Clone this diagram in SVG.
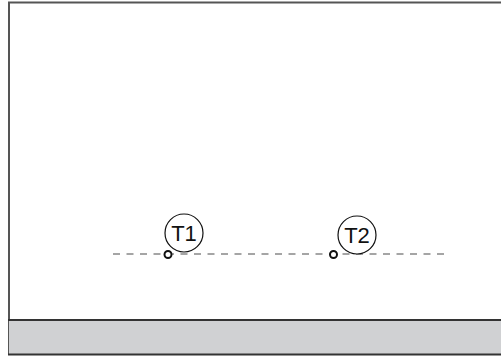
<svg xmlns="http://www.w3.org/2000/svg" width="501" height="358" viewBox="0 0 501 358">
<style>
.frame{fill:none;stroke:#555;stroke-width:2}
.band{fill:#d0d1d3;stroke:none}
.bandline{stroke:#333;stroke-width:2}
.dash{stroke:#888;stroke-width:1.5;stroke-dasharray:7 6.5;fill:none}
.tag{fill:#fff;stroke:#111;stroke-width:1.2}
.pt{fill:#fff;stroke:#111;stroke-width:2}
.lbl{font-family:"Liberation Sans",Arial,sans-serif;font-size:22px;fill:#111;text-anchor:middle}
</style>
<rect width="501" height="358" fill="#fff"/>
<path class="frame" d="M9,355 V2.5 H501"/>
<rect class="band" x="9" y="320" width="492" height="34"/>
<line class="bandline" x1="8" y1="320" x2="501" y2="320"/>
<line class="bandline" x1="8" y1="354.5" x2="501" y2="354.5"/>
<g id="connectors">
<line class="dash" x1="113" y1="254" x2="447" y2="254"/>
</g>
<g id="T1">
<circle class="tag" cx="184" cy="233" r="19"/>
<text class="lbl" x="184" y="241">T1</text>
<circle class="pt" cx="168" cy="254.5" r="3.5"/>
</g>
<g id="T2">
<circle class="tag" cx="357" cy="235" r="19"/>
<text class="lbl" x="357" y="243">T2</text>
<circle class="pt" cx="333.5" cy="254.5" r="3.5"/>
</g>
</svg>
